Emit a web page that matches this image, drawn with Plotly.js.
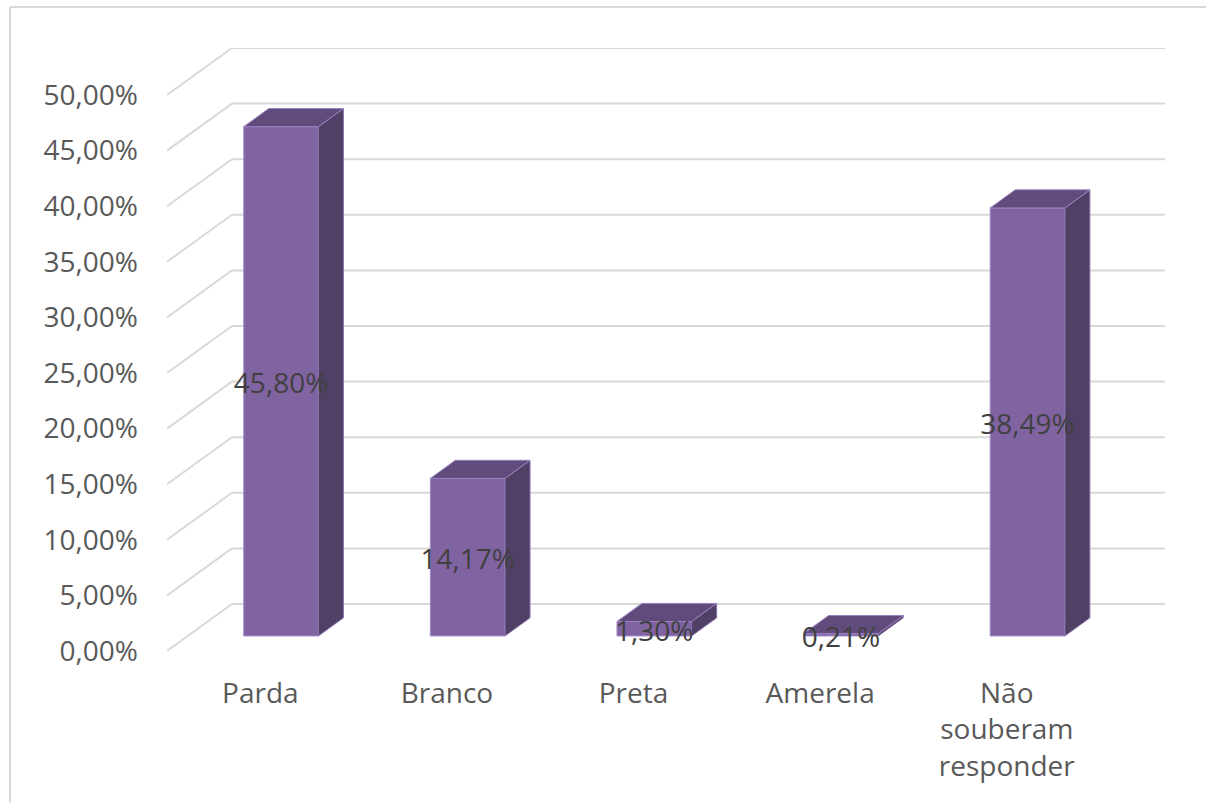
<!DOCTYPE html>
<html>
<head>
<meta charset="utf-8">
<script src="https://cdn.plot.ly/plotly-3.0.1.min.js"></script>
<style>html,body{margin:0;padding:0;background:#fff;}</style>
</head>
<body>
<div id="chart" style="width:1206px;height:803px;"></div>
<script>
// ---- data ----
const categories = ["Parda", "Branco", "Preta", "Amerela", "Não<br>souberam<br>responder"];
const values = [45.80, 14.17, 1.30, 0.21, 38.49];
const valueLabels = ["45,80%", "14,17%", "1,30%", "0,21%", "38,49%"];
const yTickVals = [0, 5, 10, 15, 20, 25, 30, 35, 40, 45, 50];
const yTickText = ["0,00%", "5,00%", "10,00%", "15,00%", "20,00%", "25,00%", "30,00%", "35,00%", "40,00%", "45,00%", "50,00%"];

// ---- oblique 3D projection settings ----
const DX = 0.348;   // full depth shift in x units
const DY = 4.227;   // full depth shift in y units
const D1 = 0.32, D2 = 0.705; // bar front/back depth fractions
const W = 0.4;      // bar width
const LABEL_NUDGE = 0.45; // text baseline correction (y units)
const xMin = -0.5, xMax = categories.length - 0.5;

const idx = categories.map((_, i) => i);

const shapes = [];
// gridlines: side wall slants + back wall horizontals
yTickVals.forEach(t => {
  shapes.push({type: 'line', layer: 'below', xref: 'x', yref: 'y',
    x0: xMin, y0: t, x1: xMin + DX, y1: t + DY, line: {color: '#d9d9d9', width: 2}});
  shapes.push({type: 'line', layer: 'below', xref: 'x', yref: 'y',
    x0: xMin + DX, y0: t + DY, x1: xMax + DX, y1: t + DY, line: {color: '#d9d9d9', width: 2}});
});
// chart frame (cropped)
shapes.push({type: 'line', xref: 'paper', yref: 'paper', x0: -0.1573, y0: 1.068, x1: 1.06, y1: 1.068, line: {color: '#d9d9d9', width: 2}});
shapes.push({type: 'line', xref: 'paper', yref: 'paper', x0: -0.1573, y0: 1.068, x1: -0.1573, y1: -0.27, line: {color: '#d9d9d9', width: 2}});

const traces = [];
// front faces (bar trace)
traces.push({
  type: 'bar',
  x: idx.map(i => i + D1 * DX),
  y: values,
  base: values.map(() => D1 * DY),
  width: W,
  marker: {color: '#8064a2', line: {color: '#9f88c4', width: 1}},
  hoverinfo: 'skip'
});
// side faces
values.forEach((v, i) => {
  const xr1 = i + W / 2 + D1 * DX, xr2 = i + W / 2 + D2 * DX;
  traces.push({
    type: 'scatter', mode: 'lines', fill: 'toself',
    x: [xr1, xr1, xr2, xr2, xr1],
    y: [D1 * DY, v + D1 * DY, v + D2 * DY, D2 * DY, D1 * DY],
    fillcolor: '#504066', line: {color: '#8a72ad', width: 1}, hoverinfo: 'skip'
  });
});
// top faces
values.forEach((v, i) => {
  const xl1 = i - W / 2 + D1 * DX, xr1 = i + W / 2 + D1 * DX;
  const xl2 = i - W / 2 + D2 * DX, xr2 = i + W / 2 + D2 * DX;
  traces.push({
    type: 'scatter', mode: 'lines', fill: 'toself',
    x: [xl1, xr1, xr2, xl2, xl1],
    y: [v + D1 * DY, v + D1 * DY, v + D2 * DY, v + D2 * DY, v + D1 * DY],
    fillcolor: '#604b7c', line: {color: '#9a82bf', width: 1}, hoverinfo: 'skip'
  });
});
// data labels
traces.push({
  type: 'scatter', mode: 'text',
  x: idx.map(i => i + D1 * DX),
  y: values.map(v => v / 2 + D1 * DY - LABEL_NUDGE),
  text: valueLabels,
  textposition: 'middle center',
  textfont: {family: 'Open Sans', size: 28, color: '#404040'},
  hoverinfo: 'skip'
});

const layout = {
  width: 1206, height: 803,
  margin: {l: 167, r: 41, t: 48, b: 152},
  paper_bgcolor: '#ffffff', plot_bgcolor: 'rgba(0,0,0,0)',
  showlegend: false,
  font: {family: 'Open Sans', size: 28, color: '#595959'},
  xaxis: {
    range: [xMin, xMax + DX], showgrid: false, zeroline: false, showline: false,
    tickmode: 'array', tickvals: idx, ticktext: categories,
    ticks: '', ticklabelstandoff: 23,
    tickfont: {family: 'Open Sans', size: 28, color: '#595959'}, fixedrange: true
  },
  yaxis: {
    range: [0, 50 + DY], showgrid: false, zeroline: false, showline: false,
    tickmode: 'array', tickvals: yTickVals, ticktext: yTickText,
    ticks: '', ticklabelstandoff: 28,
    tickfont: {family: 'Open Sans', size: 28, color: '#595959'}, fixedrange: true
  },
  shapes: shapes
};

Plotly.newPlot('chart', traces, layout, {staticPlot: true, displayModeBar: false});
</script>
</body>
</html>
